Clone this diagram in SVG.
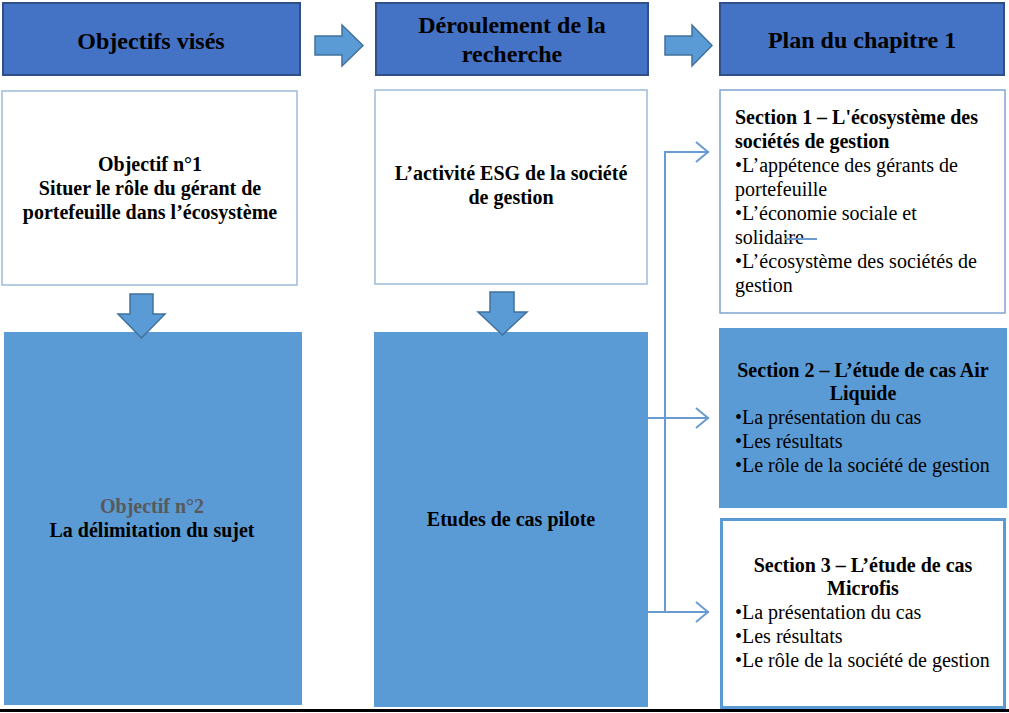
<svg xmlns="http://www.w3.org/2000/svg" width="1009" height="713" viewBox="0 0 1009 713">
<style>
.hdr{fill:#4472C4;stroke:#2F4F86;stroke-width:2}
.wbox{fill:#FFFFFF;stroke:#9DBBDB;stroke-width:1.5}
.bbox{fill:#5B9BD5;stroke:none}
.barrow{fill:#5B9BD5;stroke:#41719C;stroke-width:1.5}
.t{font-family:"Liberation Serif","Times New Roman",serif;fill:#000}
.h{font-size:24px;font-weight:bold;text-anchor:middle}
.b{font-size:20px;font-weight:bold}
.n{font-size:20px}
.c{text-anchor:middle}
.con{fill:none;stroke:#6A9BD0;stroke-width:2}
</style>
<rect width="1009" height="713" fill="#FFFFFF"/>
<g id="hdr1"><rect class="hdr" x="3" y="3" width="297" height="72"/><text class="t h" x="151" y="49">Objectifs visés</text></g>
<g id="hdr2"><rect class="hdr" x="376" y="3" width="272" height="72"/><text class="t h" x="512" y="33">Déroulement de la</text><text class="t h" x="512" y="62">recherche</text></g>
<g id="hdr3"><rect class="hdr" x="720" y="3" width="284" height="72"/><text class="t h" x="862" y="48">Plan du chapitre 1</text></g>
<g id="arrowR1"><polygon class="barrow" points="315,36 342,36 342,25 363,45.5 342,66 342,55 315,55"/></g>
<g id="arrowR2"><polygon class="barrow" points="665,36 692,36 692,25 712,45.5 692,66 692,55 665,55"/></g>
<g id="boxA"><rect class="wbox" x="2" y="91" width="295" height="194"/>
<text class="t b c" x="150" y="171">Objectif n°1</text>
<text class="t b c" x="150" y="195">Situer le rôle du gérant de</text>
<text class="t b c" x="150" y="219">portefeuille dans l’écosystème</text></g>
<g id="boxB"><rect class="wbox" x="375" y="90" width="272" height="194"/>
<text class="t b c" x="511" y="180">L’activité ESG de la société</text>
<text class="t b c" x="511" y="204">de gestion</text></g>
<g id="boxC"><rect class="bbox" x="4" y="332" width="298" height="373"/>
<text class="t b c" x="152" y="513" style="fill:#595959">Objectif n°2</text>
<text class="t b c" x="152" y="537">La délimitation  du sujet</text></g>
<g id="boxD"><rect class="bbox" x="374" y="332" width="274" height="375"/>
<text class="t b c" x="511" y="526">Etudes de cas pilote</text></g>
<g id="arrowD1"><polygon class="barrow" points="130,294 153,294 153,314 165,314 141.5,338 118,314 130,314"/></g>
<g id="arrowD2"><polygon class="barrow" points="490,292 514,292 514,312 527,312 502.5,335 478,312 490,312"/></g>
<g id="sec1"><rect class="wbox" x="720" y="90" width="285" height="223" style="stroke:#7FA3CF"/>
<text class="t b" x="735" y="124" textLength="243" lengthAdjust="spacingAndGlyphs">Section 1 – L'écosystème des</text>
<text class="t b" x="735" y="148">sociétés de gestion</text>
<text class="t n" x="735" y="172" textLength="223" lengthAdjust="spacing">•L’appétence  des gérants de</text>
<text class="t n" x="735" y="196">portefeuille</text>
<text class="t n" x="735" y="220">•L’économie sociale et</text>
<text class="t n" x="735" y="244">solidaire</text>
<text class="t n" x="735" y="268" textLength="242" lengthAdjust="spacing">•L’écosystème  des sociétés de</text>
<text class="t n" x="735" y="292">gestion</text></g>
<g id="sec2"><rect class="bbox" x="719" y="328" width="288" height="180"/>
<text class="t b c" x="863" y="377">Section 2 – L’étude de cas Air</text>
<text class="t b c" x="863" y="400">Liquide</text>
<text class="t n" x="735" y="424">•La présentation du cas</text>
<text class="t n" x="735" y="448">•Les résultats</text>
<text class="t n" x="735" y="472">•Le rôle de la société de gestion</text></g>
<g id="sec3"><rect x="721.5" y="519.5" width="283" height="188" fill="#FFFFFF" stroke="#5B9BD5" stroke-width="3"/>
<text class="t b c" x="863" y="572">Section 3 – L’étude de cas</text>
<text class="t b c" x="863" y="595">Microfis</text>
<text class="t n" x="735" y="619">•La présentation du cas</text>
<text class="t n" x="735" y="643">•Les résultats</text>
<text class="t n" x="735" y="667">•Le rôle de la société de gestion</text></g>
<g id="connectors">
<polyline class="con" points="709,152 665,152 665,612"/>
<line class="con" x1="648" y1="418" x2="709" y2="418"/>
<line class="con" x1="648" y1="612" x2="709" y2="612"/>
<polyline class="con" points="696,142 708,152 696,162"/>
<polyline class="con" points="696,408 708,418 696,428"/>
<polyline class="con" points="696,602 708,612 696,622"/>
<line class="con" x1="785" y1="239" x2="817" y2="239"/>
</g>
<line x1="0" y1="710.5" x2="1009" y2="710.5" stroke="#000" stroke-width="3"/>
</svg>
